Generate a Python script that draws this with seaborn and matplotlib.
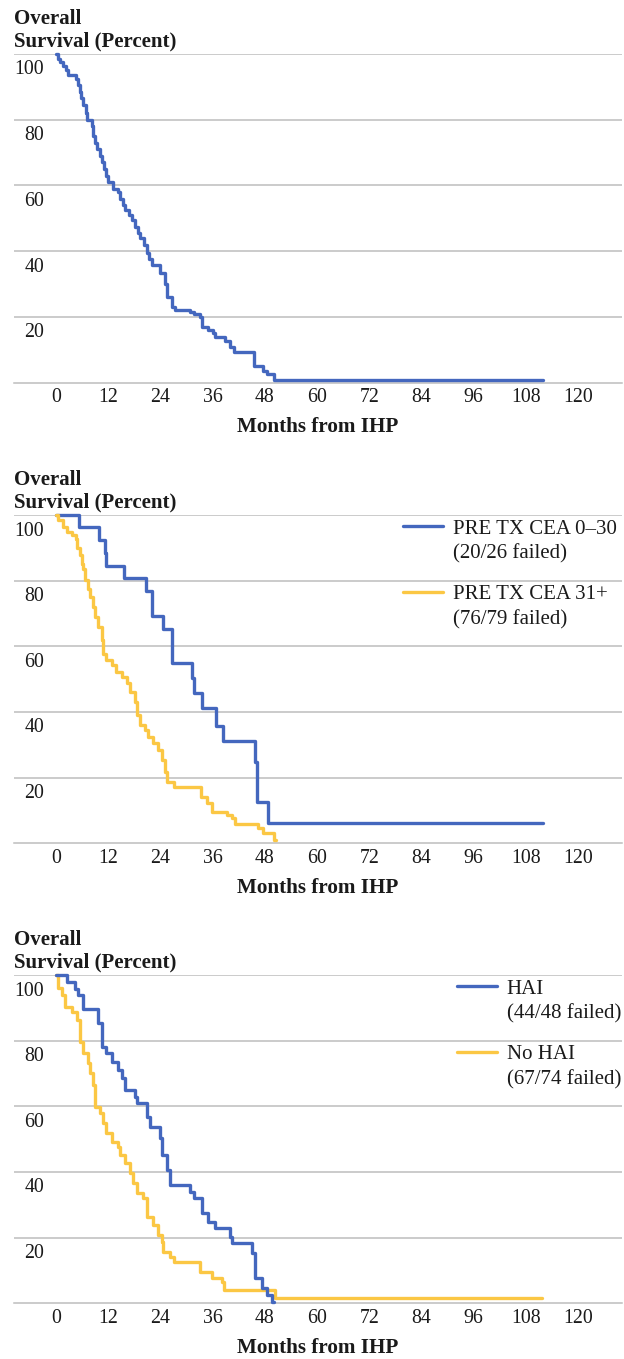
import matplotlib
matplotlib.use("Agg")
import matplotlib.pyplot as plt
import matplotlib.transforms as mtrans
from matplotlib.lines import Line2D
import seaborn as sns

# ---------------- data ----------------
months_ticks = [0, 12, 24, 36, 48, 60, 72, 84, 96, 108, 120]
pct_ticks = [20, 40, 60, 80, 100]

# Panel 1: all patients
t_all = [0, 0.4, 1.0, 1.6, 2.3, 2.8, 4.6, 5.0, 5.4, 5.8, 6.3, 6.8, 7.2, 8.3, 8.5, 9.0,
         9.5, 10.0, 10.5, 11.0, 11.5, 12.0, 13.2, 14.2, 14.8, 15.4, 15.9, 16.8, 17.5,
         18.2, 18.8, 19.3, 20.2, 20.8, 21.4, 22.0, 23.9, 25.0, 25.4, 26.6, 27.4, 30.8,
         31.6, 33.1, 33.5, 35.0, 36.0, 36.6, 38.8, 40.0, 40.8, 45.4, 47.6, 48.5, 50.0, 112.0]
s_all = [100, 98.5, 97.5, 96.5, 95, 93.5, 92.5, 90.5, 88.5, 86.5, 84.5, 82, 80, 78, 75, 73,
         71, 69, 67, 65, 63, 61, 59, 58, 56, 54, 52.5, 51, 49.5,
         47.5, 45.5, 44, 42, 39.5, 37.5, 35.7, 33.4, 30, 26, 23, 22, 21.5,
         21, 20, 17, 16, 15, 14, 12.8, 11, 9.3, 5.2, 3.7, 2.7, 0.8, 0.8]

# Panel 2: pre-treatment CEA
cea_labels = ["PRE TX CEA 0\u201330", "PRE TX CEA 31+"]
cea_notes = ["(20/26 failed)", "(76/79 failed)"]
t_cea_low = [0, 5.3, 9.9, 11.3, 11.6, 15.7, 20.6, 22.0, 24.7, 26.6, 31.3, 31.8, 33.5,
             36.8, 38.3, 45.7, 46.1, 48.7, 112.0]
s_cea_low = [100, 96.2, 92.3, 88.5, 84.6, 80.8, 76.9, 69.2, 65.4, 54.8, 50.5, 45.8, 41.1,
             35.8, 31.1, 24.8, 12.5, 6.1, 6.1]
t_cea_high = [0, 0.5, 1.7, 2.5, 3.6, 4.6, 4.8, 5.5, 5.9, 6.3, 6.7, 7.4, 7.7, 8.6, 9.0,
              9.7, 10.5, 10.9, 11.6, 12.8, 13.9, 15.1, 16.2, 17.0, 18.2, 18.5, 19.3, 20.5,
              21.2, 22.4, 23.5, 24.3, 25.1, 25.4, 27.0, 33.3, 34.6, 35.8, 39.2, 40.4, 41.1,
              46.5, 47.6, 50.0, 50.6]
s_cea_high = [100, 98.4, 96.4, 94.9, 93.9, 92.8, 89.8, 87.8, 85.2, 83.7, 80.2, 77.6, 75.1,
              72.0, 69.0, 65.9, 61.9, 57.8, 55.8, 54.3, 52.2, 50.7, 48.7, 46.1, 43.1, 39.1,
              36.0, 34.5, 32.5, 30.4, 28.4, 25.4, 21.8, 18.8, 17.2, 14.2, 12.2, 9.6, 8.6,
              7.6, 5.9, 4.6, 3.0, 1.0, 1.0]

# Panel 3: HAI
hai_labels = ["HAI", "No HAI"]
hai_notes = ["(44/48 failed)", "(67/74 failed)"]
t_hai = [0, 2.5, 4.4, 5.1, 6.3, 9.7, 10.5, 11.6, 12.8, 14.3, 15.1, 15.9, 18.2, 18.5, 21.0,
         21.6, 23.9, 24.3, 25.4, 26.2, 30.8, 31.6, 33.5, 35.0, 36.6, 40.0, 40.4, 45.0,
         45.7, 47.3, 48.4, 49.6, 50.0]
s_hai = [100, 97.9, 95.8, 93.8, 89.6, 85.4, 78.2, 76.1, 73.6, 71.1, 68.5, 65.0, 62.9, 60.9,
         56.8, 53.8, 50.3, 45.2, 40.6, 36.0, 34.0, 32.0, 27.4, 24.9, 22.8, 20.3, 18.3,
         15.2, 7.6, 4.6, 2.5, 0.5, 0.5]
t_nohai = [0, 0.5, 1.3, 2.1, 3.6, 4.8, 5.5, 6.3, 7.4, 7.8, 8.6, 9.0, 10.1, 10.9, 11.6,
           12.8, 14.3, 14.7, 15.9, 17.0, 17.8, 18.5, 20.1, 20.8, 22.4, 23.5, 24.3, 24.7,
           26.2, 27.0, 33.1, 35.8, 38.1, 38.5, 50.3, 111.7]
s_nohai = [100, 95.9, 93.9, 90.3, 88.8, 86.3, 79.7, 76.1, 73.1, 70.1, 66.5, 59.9, 57.9,
           54.8, 51.8, 49.2, 47.7, 45.2, 42.6, 39.6, 36.5, 33.5, 32.0, 26.4, 23.8, 20.8,
           18.8, 15.7, 14.2, 12.7, 9.6, 7.6, 6.6, 4.1, 1.5, 1.5]

y_title = "Overall\nSurvival (Percent)"
x_title = "Months from IHP"

# ---------------- style ----------------
BLUE = "#4467BE"
GOLD = "#FBC744"
GRID = "#BDBDBD"
TXT = "#1a1a1a"
LW = 2.4

sns.set_theme(style="white")
plt.rcParams["font.family"] = ["Liberation Serif", "DejaVu Serif"]

W, H = 624, 1359
fig = plt.figure(figsize=(W / 100, H / 100), dpi=100)

def px_rect(top, bottom, left=14, right=622):
    return [left / W, 1 - bottom / H, (right - left) / W, (bottom - top) / H]

axes = [fig.add_axes(px_rect(54, 382.7)),
        fig.add_axes(px_rect(515, 843.3)),
        fig.add_axes(px_rect(975, 1303.3))]

def style_axis(ax):
    ax.set_xlim(-9.65, 130.05)
    ax.set_ylim(0, 100)
    ax.set_xticks(months_ticks)
    ax.set_xticklabels([str(m) for m in months_ticks])
    ax.set_yticks(pct_ticks)
    ax.set_yticklabels([str(p) for p in pct_ticks])
    for s in ["top", "right", "left"]:
        ax.spines[s].set_visible(False)
    ax.spines["bottom"].set_color(GRID)
    ax.spines["bottom"].set_linewidth(1.1)
    ax.yaxis.grid(True, color=GRID, linewidth=1.1)
    ax.xaxis.grid(False)
    ax.set_axisbelow(True)
    ax.tick_params(axis="x", direction="in", length=9, width=1.0, color=GRID,
                   pad=4, labelsize=14.3, labelcolor=TXT)
    ax.tick_params(axis="y", length=0, pad=-21.6, labelsize=14.3, labelcolor=TXT)
    off = mtrans.ScaledTranslation(0, -16 / 100, fig.dpi_scale_trans)
    for lab in ax.get_yticklabels():
        lab.set_verticalalignment("center")
        lab.set_transform(lab.get_transform() + off)
    ax.set_xlabel(x_title, fontsize=15.2, fontweight="bold", color=TXT, labelpad=7)
    ax.set_ylabel("")
    ax.annotate(y_title, xy=(0, 1), xycoords="axes fraction", xytext=(0, 2.5),
                textcoords="offset pixels", ha="left", va="bottom", fontsize=15,
                fontweight="bold", color=TXT, linespacing=1.18)

def km(ax, t, s, color):
    sns.lineplot(x=t, y=s, ax=ax, drawstyle="steps-post", color=color, linewidth=LW,
                 estimator=None, sort=False, clip_on=False, zorder=3)

def add_legend(ax, labels, notes, left_px):
    handles = [Line2D([], [], color=BLUE, linewidth=LW),
               Line2D([], [], color=GOLD, linewidth=LW)]
    leg = ax.legend(handles, labels, loc="upper left",
                    bbox_to_anchor=((left_px - 14) / 608, 1 - 4 / 328),
                    frameon=False, fontsize=15, handlelength=1.9, handletextpad=0.48,
                    labelspacing=2.2, borderpad=0, borderaxespad=0)
    for txt, note in zip(leg.get_texts(), notes):
        txt.set_color(TXT)
        ax.annotate(note, xy=(0, 0.5), xycoords=txt, xytext=(0, -25),
                    textcoords="offset pixels", ha="left", va="center",
                    fontsize=15, color=TXT, zorder=10)

# Panel 1
km(axes[0], t_all, s_all, BLUE)
style_axis(axes[0])

# Panel 2
km(axes[1], t_cea_low, s_cea_low, BLUE)
km(axes[1], t_cea_high, s_cea_high, GOLD)
style_axis(axes[1])
add_legend(axes[1], cea_labels, cea_notes, 403)

# Panel 3
km(axes[2], t_nohai, s_nohai, GOLD)
km(axes[2], t_hai, s_hai, BLUE)
style_axis(axes[2])
add_legend(axes[2], hai_labels, hai_notes, 457)

fig.canvas.draw()
fig.savefig("out.png", dpi=100, facecolor="white")
